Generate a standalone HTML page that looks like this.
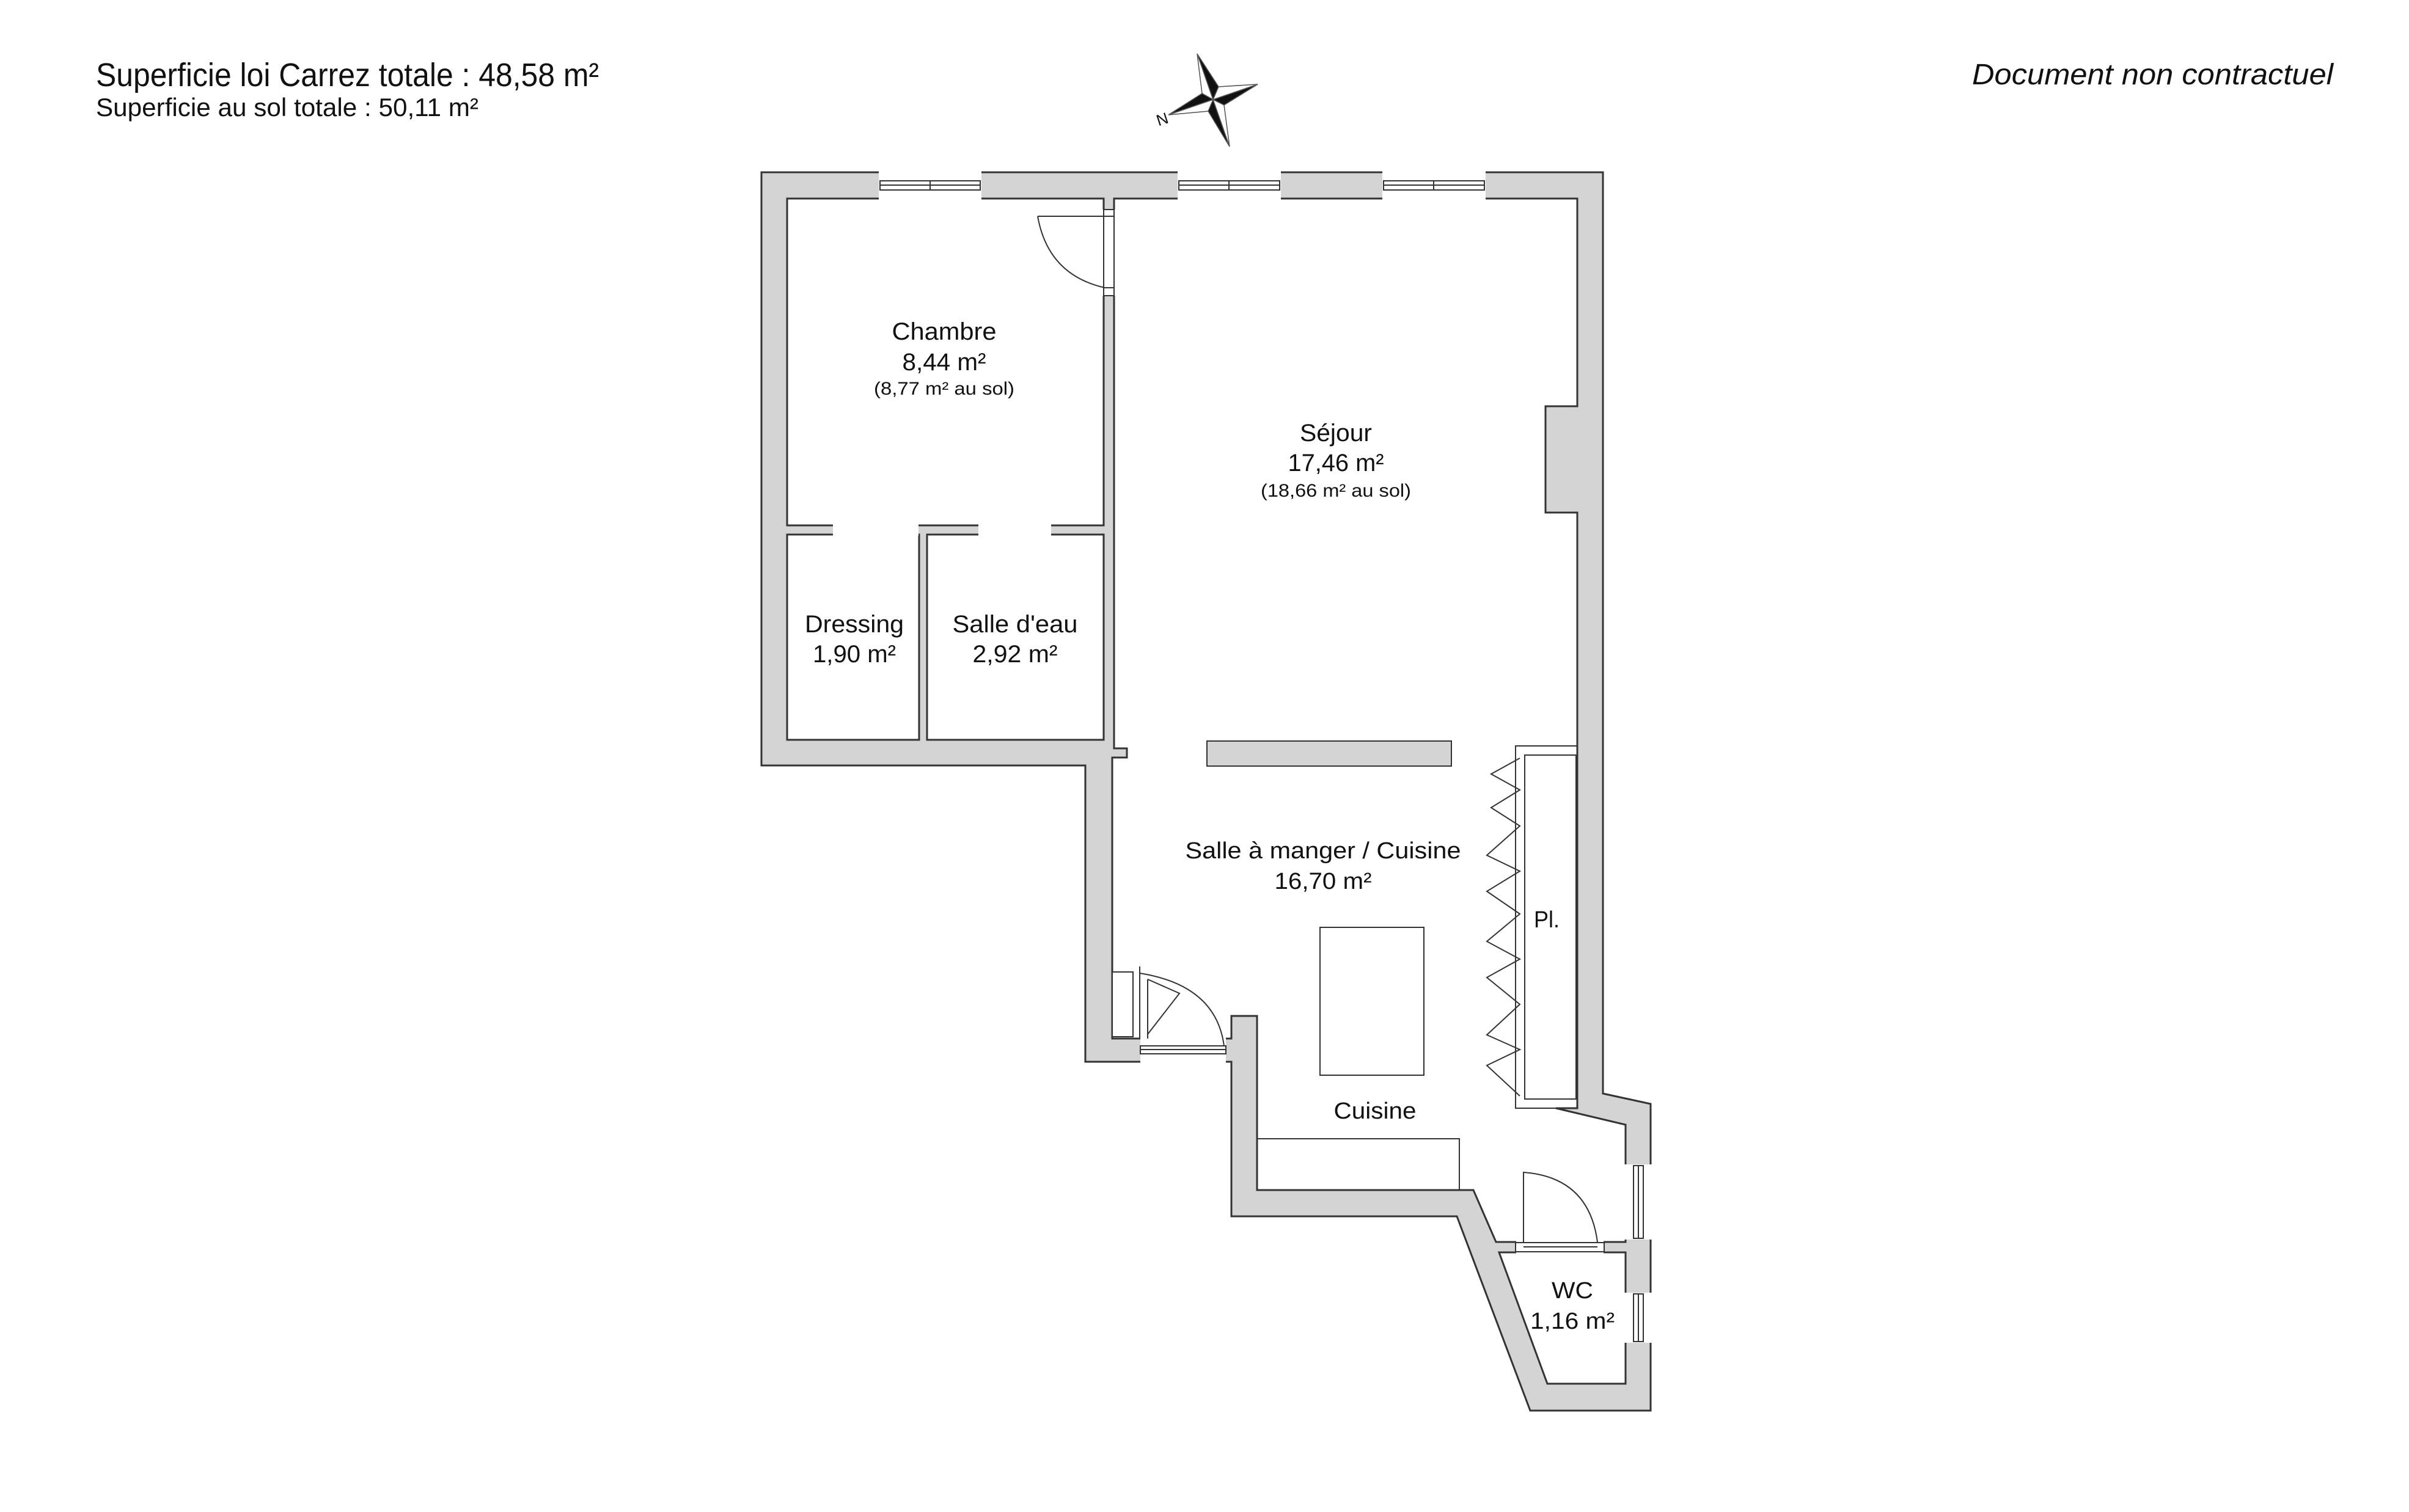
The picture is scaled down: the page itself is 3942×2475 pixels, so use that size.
<!DOCTYPE html>
<html><head><meta charset="utf-8"><style>
html,body{margin:0;padding:0;background:#fff;}
svg{display:block;}
text{font-family:"Liberation Sans",sans-serif;fill:#111;}
</style></head><body>
<svg width="3942" height="2475" viewBox="0 0 3942 2475" xmlns="http://www.w3.org/2000/svg">
<rect width="3942" height="2475" fill="#fff"/>
<text x="157" y="141" font-size="54" textLength="823" lengthAdjust="spacingAndGlyphs">Superficie loi Carrez totale :  48,58 m²</text>
<text x="157" y="190" font-size="42" textLength="626" lengthAdjust="spacingAndGlyphs">Superficie au sol totale :  50,11 m²</text>
<text x="3818" y="138" font-size="48" font-style="italic" text-anchor="end" textLength="591" lengthAdjust="spacingAndGlyphs">Document non contractuel</text>
<g stroke="#555" stroke-width="1.5">
<polygon points="1959,88 1994,142 1985,163" fill="#111"/>
<polygon points="1959,88 1967,153 1985,163" fill="#fff"/>
<polygon points="2058,138 2003,172 1985,163" fill="#111"/>
<polygon points="2058,138 1994,142 1985,163" fill="#fff"/>
<polygon points="2012,240 1977,182 1985,163" fill="#111"/>
<polygon points="2012,240 2003,172 1985,163" fill="#fff"/>
<polygon points="1912,188 1967,153 1985,163" fill="#111"/>
<polygon points="1912,188 1977,182 1985,163" fill="#fff"/>
</g>
<text x="1893" y="207" font-size="26" transform="rotate(-18 1893 198)">N</text>
<g stroke="#333" stroke-width="3" stroke-linejoin="miter">
<polygon fill="#d4d4d4" points="1246,282 2623,282 2623,1790 2701,1807 2701,2309 2504,2309 2384,1991 2015,1991 2015,1738 1776,1738 1776,1253 1246,1253"/>
<rect x="1288" y="325" width="518" height="535" fill="#fff"/>
<rect x="1288" y="875" width="216" height="336" fill="#fff"/>
<rect x="1517" y="875" width="289" height="336" fill="#fff"/>
<polygon fill="#fff" points="1823,325 2581,325 2581,665 2529,665 2529,839 2581,839 2581,1814 2546,1814 2660,1841 2660,2033 2448,2033 2411,1948 2057,1948 2057,1663 2015,1663 2015,1700 1820,1700 1820,1240 1844,1240 1844,1225 1823,1225"/>
<polygon fill="#fff" points="2453,2050 2660,2050 2660,2265 2532,2265"/>
</g>
<g fill="#fff">
<rect x="1363" y="858" width="140" height="19"/>
<rect x="1601" y="858" width="119" height="19"/>
<rect x="1804" y="343" width="21" height="141"/>
<rect x="1866" y="1698" width="140" height="42"/>
<rect x="2481" y="2031" width="143" height="21"/>
<rect x="1438" y="280" width="168" height="47"/>
<rect x="1927" y="280" width="169" height="47"/>
<rect x="2262" y="280" width="169" height="47"/>
<rect x="2658" y="1906" width="45" height="123"/>
<rect x="2658" y="2116" width="45" height="82"/>
</g>
<g fill="none" stroke="#333" stroke-width="2">
<rect x="1440" y="296" width="164" height="15"/><line x1="1440" y1="303" x2="1604" y2="303"/><line x1="1522" y1="296" x2="1522" y2="311"/>
<rect x="1929" y="296" width="165" height="15"/><line x1="1929" y1="303" x2="2094" y2="303"/><line x1="2011" y1="296" x2="2011" y2="311"/>
<rect x="2264" y="296" width="165" height="15"/><line x1="2264" y1="303" x2="2429" y2="303"/><line x1="2346" y1="296" x2="2346" y2="311"/>
<rect x="2673" y="1908" width="16" height="119"/><line x1="2681" y1="1908" x2="2681" y2="2027"/>
<rect x="2673" y="2118" width="16" height="78"/><line x1="2681" y1="2118" x2="2681" y2="2196"/>
<rect x="1806" y="343" width="17" height="141"/>
<line x1="1806" y1="354" x2="1823" y2="354"/><line x1="1806" y1="471" x2="1823" y2="471"/>
<path d="M1698,354 L1808,354 M1698,354 Q1715,450 1808,471"/>
<rect x="1866" y="1712" width="140" height="13"/>
<line x1="1866" y1="1718" x2="2006" y2="1718"/>
<rect x="1820" y="1591" width="34" height="106" fill="#fff"/>
<line x1="1865" y1="1582" x2="1865" y2="1700"/>
<path d="M1878,1603 L1878,1700 M1878,1603 L1930,1626 L1878,1693 M1865,1593 Q1990,1613 2003,1712"/>
<rect x="1975" y="1213" width="400" height="41" fill="#d4d4d4"/>
<rect x="2160" y="1518" width="170" height="242"/>
<rect x="2057" y="1864" width="331" height="84"/>
<rect x="2480" y="1221" width="101" height="593"/>
<rect x="2495" y="1236" width="84" height="563"/>
<polyline points="2487,1241 2440,1267 2487,1293 2440,1322 2487,1352 2433,1400 2487,1426 2433,1459 2487,1496 2433,1541 2487,1570 2433,1600 2487,1644 2433,1694 2487,1718 2433,1744 2487,1794"/>
<rect x="2480" y="2034" width="145" height="15"/>
<line x1="2493" y1="2041" x2="2614" y2="2041"/>
<path d="M2493,2033 L2493,1919 Q2600,1927 2614,2033"/>
</g>
<g text-anchor="middle">
<text x="1545" y="556" font-size="40" textLength="171" lengthAdjust="spacingAndGlyphs">Chambre</text>
<text x="1545" y="606" font-size="40" textLength="137" lengthAdjust="spacingAndGlyphs">8,44 m²</text>
<text x="1545" y="646" font-size="30" textLength="230" lengthAdjust="spacingAndGlyphs">(8,77 m² au sol)</text>
<text x="2186" y="722" font-size="40" textLength="118" lengthAdjust="spacingAndGlyphs">Séjour</text>
<text x="2186" y="771" font-size="40" textLength="157" lengthAdjust="spacingAndGlyphs">17,46 m²</text>
<text x="2186" y="813" font-size="30" textLength="246" lengthAdjust="spacingAndGlyphs">(18,66 m² au sol)</text>
<text x="1398" y="1035" font-size="40" textLength="162" lengthAdjust="spacingAndGlyphs">Dressing</text>
<text x="1398" y="1084" font-size="40" textLength="136" lengthAdjust="spacingAndGlyphs">1,90 m²</text>
<text x="1661" y="1035" font-size="40" textLength="205" lengthAdjust="spacingAndGlyphs">Salle d'eau</text>
<text x="1661" y="1084" font-size="40" textLength="139" lengthAdjust="spacingAndGlyphs">2,92 m²</text>
<text x="2165" y="1405" font-size="38" textLength="451" lengthAdjust="spacingAndGlyphs">Salle à manger / Cuisine</text>
<text x="2165" y="1455" font-size="38" textLength="159" lengthAdjust="spacingAndGlyphs">16,70 m²</text>
<text x="2531" y="1518" font-size="38" textLength="42" lengthAdjust="spacingAndGlyphs">Pl.</text>
<text x="2250" y="1831" font-size="38" textLength="135" lengthAdjust="spacingAndGlyphs">Cuisine</text>
<text x="2573" y="2125" font-size="38" textLength="68" lengthAdjust="spacingAndGlyphs">WC</text>
<text x="2573" y="2175" font-size="38" textLength="138" lengthAdjust="spacingAndGlyphs">1,16 m²</text>
</g>
</svg>
</body></html>
